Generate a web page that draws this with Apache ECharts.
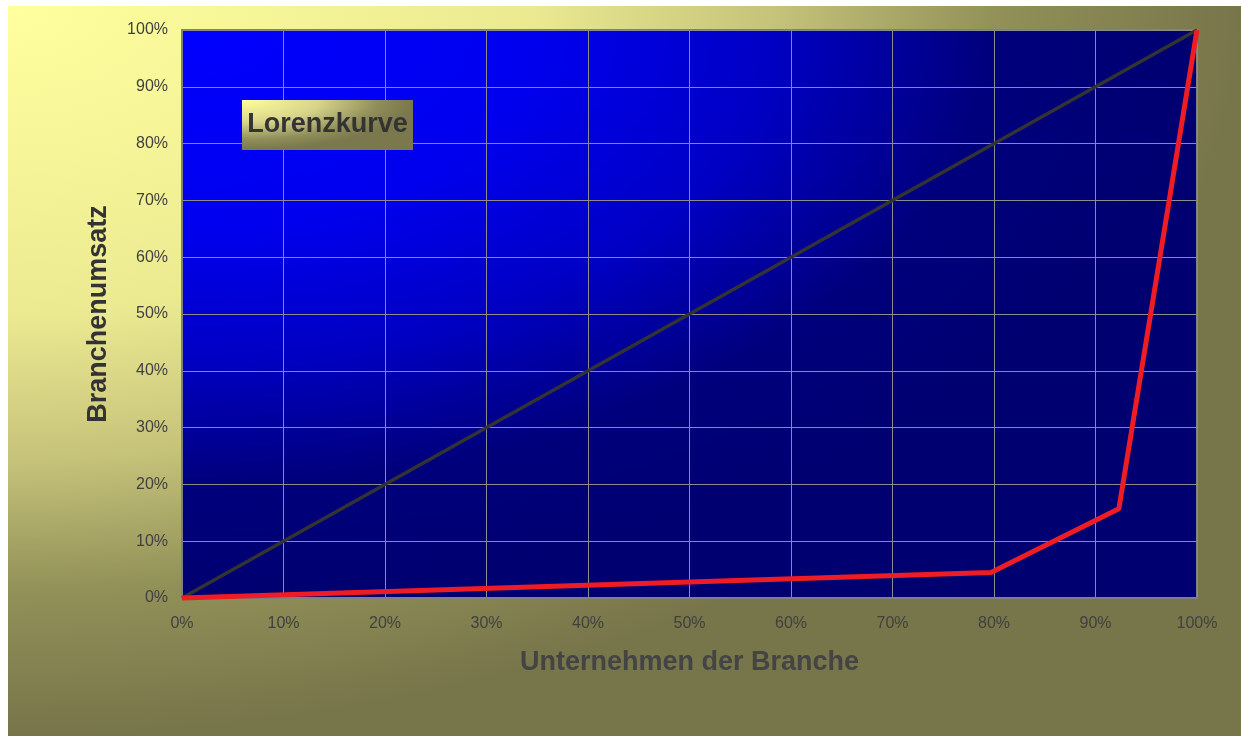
<!DOCTYPE html>
<html>
<head>
<meta charset="utf-8">
<script src="https://cdn.jsdelivr.net/npm/echarts@6/dist/echarts.min.js"></script>
<style>
  html, body { margin: 0; padding: 0; background: #fff; }
  #chart { width: 1241px; height: 736px; }
</style>
</head>
<body>
<div id="chart"></div>
<script>
// Lorenzkurve: Anteil Unternehmen (x) vs. Anteil Branchenumsatz (y), in %
const companyShare = [0, 79.7, 92.3, 100];
const revenueShare = [0, 4.5, 15.7, 100];
const equalityX = [0, 100];
const equalityY = [0, 100];
const tickStep = 10;

const toPairs = (xs, ys) => xs.map((x, i) => [x, ys[i]]);

const plot = { left: 182, top: 30, width: 1015, height: 568 };
const font = "'Liberation Sans', Arial, Helvetica, sans-serif";

// elliptical "from corner" fill: square rect w/ radial gradient, stretched on x
const cornerFill = (x, y, w, h, stops, z) => ({
    type: "rect",
    x: x,
    y: y,
    scaleX: w / h,
    shape: { x: 0, y: 0, width: h, height: h },
    style: { fill: new echarts.graphic.RadialGradient(0, 0, 1, stops) },
    silent: true,
    z: z,
});

const chart = echarts.init(document.getElementById("chart"));

const option = {
    animation: false,
    graphic: [
        cornerFill(8, 6, 1233, 730, [
            { offset: 0, color: "#ffff9e" },
            { offset: 0.42, color: "#ecea91" },
            { offset: 0.62, color: "#c6c37a" },
            { offset: 0.8, color: "#929158" },
            { offset: 1, color: "#77754a" },
        ], -20),
        cornerFill(plot.left, plot.top, plot.width, plot.height, [
            { offset: 0, color: "#0000ff" },
            { offset: 0.35, color: "#0000ee" },
            { offset: 0.58, color: "#0000c4" },
            { offset: 0.8, color: "#00007c" },
            { offset: 1, color: "#000070" },
        ], -10),
        {
            type: "group",
            x: 242,
            y: 100,
            z: 50,
            children: [
                cornerFill(0, 0, 171, 50, [
                    { offset: 0, color: "#ffff9c" },
                    { offset: 0.45, color: "#d8d58a" },
                    { offset: 0.8, color: "#8f8d59" },
                    { offset: 1, color: "#7a784c" },
                ], 50),
                {
                    type: "text",
                    x: 85.5,
                    y: 25,
                    z: 51,
                    style: {
                        text: "Lorenzkurve",
                        fill: "#333333",
                        font: "bold 27px " + font,
                        align: "center",
                        verticalAlign: "middle",
                    },
                },
            ],
        },
    ],
    grid: {
        left: plot.left,
        top: plot.top,
        width: plot.width,
        height: plot.height,
        show: true,
        borderColor: "#808080",
        borderWidth: 2,
        backgroundColor: "transparent",
    },
    xAxis: {
        type: "value",
        min: 0,
        max: 100,
        interval: tickStep,
        name: "Unternehmen der Branche",
        nameLocation: "middle",
        nameGap: 51,
        nameTextStyle: { color: "#444444", fontSize: 27, fontWeight: "bold", fontFamily: font },
        axisLine: { show: true, lineStyle: { color: "#808080", width: 2 } },
        axisTick: { show: false },
        axisLabel: { formatter: "{value}%", color: "#404040", fontSize: 16, fontFamily: font, margin: 18 },
        splitLine: { show: true, lineStyle: { color: "#8c8c8c", width: 1 } },
    },
    yAxis: {
        type: "value",
        min: 0,
        max: 100,
        interval: tickStep,
        name: "Branchenumsatz",
        nameLocation: "middle",
        nameGap: 70,
        nameTextStyle: { color: "#333333", fontSize: 27, fontWeight: "bold", fontFamily: font },
        axisLine: { show: true, lineStyle: { color: "#808080", width: 2 } },
        axisTick: { show: false },
        axisLabel: { formatter: "{value}%", color: "#404040", fontSize: 16, fontFamily: font, margin: 14 },
        splitLine: { show: true, lineStyle: { color: "#8c8c8c", width: 1 } },
    },
    series: [
        {
            name: "Gleichverteilung",
            type: "line",
            data: toPairs(equalityX, equalityY),
            symbol: "none",
            clip: false,
            lineStyle: { color: "#333333", width: 3.5 },
            z: 3,
        },
        {
            name: "Lorenzkurve",
            type: "line",
            data: toPairs(companyShare, revenueShare),
            symbol: "none",
            clip: false,
            lineStyle: { color: "#ee1c24", width: 5 },
            z: 4,
        },
    ],
};
chart.setOption(option);
</script>
</body>
</html>
